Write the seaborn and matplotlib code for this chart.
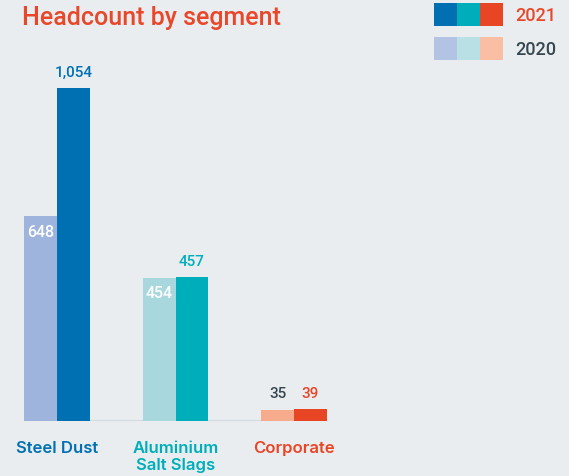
import matplotlib
matplotlib.use("Agg")
import matplotlib.pyplot as plt
import seaborn as sns
import pandas as pd
from matplotlib.patches import Rectangle

segments = ["Steel Dust", "Aluminium\nSalt Slags", "Corporate"]
values_2020 = [648, 454, 35]
values_2021 = [1054, 457, 39]
years = ["2020", "2021"]
labels_2020 = ["648", "454", "35"]
labels_2021 = ["1,054", "457", "39"]

dark_colors = ["#0070b3", "#00aebb", "#e84525"]
light_colors = ["#9fb4dc", "#a8d7de", "#f6ab8c"]
legend_light = ["#b3c3e3", "#b9e0e5", "#f9bea3"]
text_dark = "#37474f"
bg = "#e9edf0"

df = pd.DataFrame({
    "segment": segments * 2,
    "year": [years[0]] * 3 + [years[1]] * 3,
    "value": values_2020 + values_2021,
})

sns.set_theme(style="white")
plt.rcParams["font.family"] = ["Roboto", "DejaVu Sans"]

W, H = 569, 477
fig = plt.figure(figsize=(W / 100, H / 100), dpi=100, facecolor=bg)
ax = fig.add_axes([24 / W, (H - 422) / H, 303 / W, (422 - 60) / H])
ax.set_facecolor(bg)

sns.barplot(data=df, x="segment", y="value", hue="year", hue_order=years,
            order=segments, width=0.555, ax=ax, legend=False,
            saturation=1, linewidth=0)

for ci, cont in enumerate(ax.containers):
    cols = light_colors if ci == 0 else dark_colors
    for bi, patch in enumerate(cont.patches):
        patch.set_facecolor(cols[bi])
        patch.set_edgecolor("none")

bw = 0.2775
ax.set_xlim(-bw, 2 + bw)
ax.set_ylim(0, 1146)
ax.axhline(0, color="#d3d9e0", lw=1.5, zorder=0.5)
for s in ax.spines.values():
    s.set_visible(False)
ax.set_yticks([])
ax.set_ylabel("")
ax.set_xlabel("")
ax.tick_params(axis="x", length=0, pad=13.5)
ax.set_xticks(range(3))
ax.set_xticklabels(segments, fontsize=12, fontweight="semibold", linespacing=1.2,
                   va="top", family=["Inter", "DejaVu Sans"])
for t, c in zip(ax.get_xticklabels(), dark_colors):
    t.set_color(c)

# value labels
c2020 = ax.containers[0].patches
c2021 = ax.containers[1].patches
for i, p in enumerate(c2021):
    x = p.get_x() + p.get_width() / 2
    ax.annotate(labels_2021[i], (x, p.get_height()), xytext=(0, 11.5),
                textcoords="offset points", ha="center", va="center",
                fontsize=11, fontweight="medium", color=dark_colors[i])
for i, p in enumerate(c2020):
    x = p.get_x() + p.get_width() / 2
    if values_2020[i] > 100:
        ax.annotate(labels_2020[i], (x, p.get_height()), xytext=(0, -11),
                    textcoords="offset points", ha="center", va="center",
                    fontsize=11.5, fontweight="medium", color="white")
    else:
        ax.annotate(labels_2020[i], (x, p.get_height()), xytext=(0, 12),
                    textcoords="offset points", ha="center", va="center",
                    fontsize=11, fontweight="medium", color=text_dark)

# title
fig.text(22 / W, 1 - 18 / H, "Headcount by segment", fontsize=18, fontweight="medium",
         color="#e8472a", ha="left", va="center")

# legend
sw = 23
for row, (cols, yr, tc) in enumerate([(dark_colors, years[1], "#e8472a"),
                                      (legend_light, years[0], text_dark)]):
    top = 4 + row * 34
    for k, c in enumerate(cols):
        fig.patches.append(Rectangle(((434 + k * sw) / W, 1 - (top + 23) / H), sw / W, 23 / H,
                                     transform=fig.transFigure, facecolor=c, edgecolor="none"))
    fig.text(515 / W, 1 - (top + 12) / H, yr, fontsize=13, fontweight="medium",
             color=tc, ha="left", va="center")

fig.savefig("out.png", dpi=100, facecolor=bg)
